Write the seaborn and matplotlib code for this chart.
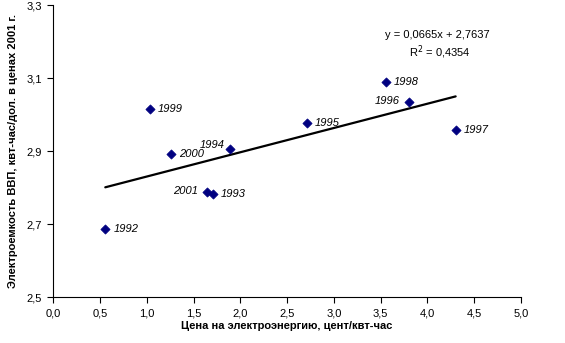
import matplotlib
matplotlib.use("Agg")
import matplotlib.pyplot as plt
import seaborn as sns
import numpy as np
import pandas as pd

years = ["1992", "1993", "1994", "1995", "1996", "1997", "1998", "1999", "2000", "2001"]
price = [0.556, 1.709, 1.891, 2.714, 3.803, 4.302, 3.554, 1.033, 1.257, 1.645]
intensity = [2.686, 2.781, 2.907, 2.976, 3.034, 2.958, 3.089, 3.014, 2.892, 2.787]
slope = 0.0665
intercept = 2.7637
r2 = 0.4354
xticks = [0.0, 0.5, 1.0, 1.5, 2.0, 2.5, 3.0, 3.5, 4.0, 4.5, 5.0]
yticks = [2.5, 2.7, 2.9, 3.1, 3.3]
# label side: 'r' to the right, 'l' to the left of the marker
label_side = {"1994": "l", "2001": "l", "1996": "l"}

sns.set_theme(style="ticks")
plt.rcParams["font.family"] = ["Liberation Sans", "DejaVu Sans"]
plt.rcParams.update({"text.color": "black", "axes.labelcolor": "black",
                     "xtick.color": "black", "ytick.color": "black"})

df = pd.DataFrame({"year": years, "price": price, "intensity": intensity})

W, H = 565, 343
fig = plt.figure(figsize=(W / 100, H / 100), dpi=100)
ax = fig.add_axes([0.0943, 0.134, 0.8277, 0.8512])

# trend line
xs = np.array([min(price), max(price)])
trend = pd.DataFrame({"x": xs, "y": slope * xs + intercept})
sns.lineplot(data=trend, x="x", y="y", ax=ax, color="black", linewidth=1.6, legend=False)

sns.scatterplot(data=df, x="price", y="intensity", ax=ax, marker="D", s=22,
                color="#000080", edgecolor="#000080", linewidth=0.5, zorder=5, legend=False)

for yr, xv, yv in zip(years, price, intensity):
    side = label_side.get(yr, "r")
    if side == "r":
        ax.annotate(yr, (xv, yv), xytext=(8, 0), textcoords="offset pixels",
                    ha="left", va="center", fontsize=8, style="italic", color="black")
    else:
        dy = 4 if yr == "1994" else 1
        dx = -5 if yr == "1994" else -9
        ax.annotate(yr, (xv, yv), xytext=(dx, dy), textcoords="offset pixels",
                    ha="right", va="center", fontsize=8, style="italic", color="black")

fmt = lambda v: f"{v:.4f}".replace(".", ",")
fig.text(437 / W, 1 - 35 / H, f"y = {fmt(slope)}x + {fmt(intercept)}",
         ha="center", va="center", fontsize=8, color="black")
fig.text(440 / W, 1 - 52 / H, "R$^2$ = " + fmt(r2), ha="center", va="center",
         fontsize=8, color="black")

ax.set_xlim(0, 5)
ax.set_ylim(2.5, 3.3)
ax.set_xticks(xticks)
ax.set_yticks(yticks)
ax.set_xticklabels([f"{v:.1f}".replace(".", ",") for v in xticks], fontsize=8)
ax.set_yticklabels([f"{v:.1f}".replace(".", ",") for v in yticks], fontsize=8)
ax.tick_params(direction="out", length=4, width=0.8, colors="black", pad=4)
for s in ["top", "right"]:
    ax.spines[s].set_visible(False)
for s in ["left", "bottom"]:
    ax.spines[s].set_color("black")
    ax.spines[s].set_linewidth(0.8)

ax.set_xlabel("Цена на электроэнергию, цент/квт-час", fontsize=8, fontweight="bold",
              labelpad=2, color="black")
ax.set_ylabel("Электроемкость ВВП, квт-час/дол. в ценах 2001 г.", fontsize=8,
              fontweight="bold", labelpad=6, color="black")

fig.savefig("out.png", dpi=100)
